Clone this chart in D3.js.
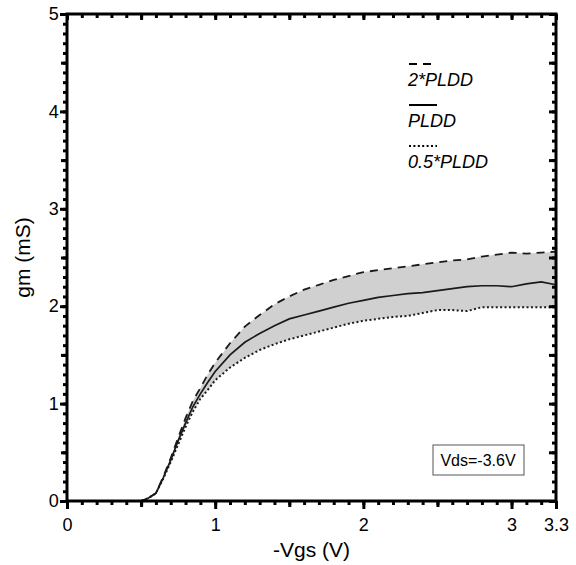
<!DOCTYPE html>
<html>
<head>
<meta charset="utf-8">
<script src="https://cdn.jsdelivr.net/npm/d3@7"></script>
<style>
  body { margin: 0; background: #fff; }
  text { font-family: Arial, "Liberation Sans", sans-serif; fill: #000; }
</style>
</head>
<body>
<div id="chart"></div>
<script>
// -Vgs (V)
const vgs = [0, 0.5, 0.55, 0.6, 0.65, 0.7, 0.75, 0.8, 0.85, 0.9, 0.95, 1.0, 1.1, 1.2, 1.3, 1.4, 1.5, 1.6, 1.7,
  1.8, 1.9, 2.0, 2.1, 2.2, 2.3, 2.4, 2.5, 2.6, 2.7, 2.8, 2.9, 3.0, 3.1, 3.2, 3.3];
// gm (mS)
const gm2x = [0, 0, 0.03, 0.08, 0.25, 0.44, 0.65, 0.85, 1.03, 1.16, 1.3, 1.42, 1.62, 1.79, 1.91, 2.02, 2.1, 2.17, 2.22,
  2.27, 2.31, 2.35, 2.37, 2.39, 2.41, 2.43, 2.45, 2.47, 2.48, 2.51, 2.53, 2.55, 2.54, 2.55, 2.56];
const gm1x = [0, 0, 0.03, 0.08, 0.24, 0.42, 0.62, 0.8, 0.97, 1.1, 1.22, 1.33, 1.5, 1.63, 1.72, 1.8, 1.87, 1.91, 1.95,
  1.99, 2.03, 2.06, 2.09, 2.11, 2.13, 2.14, 2.16, 2.18, 2.2, 2.21, 2.21, 2.2, 2.23, 2.25, 2.22];
const gmHalf = [0, 0, 0.03, 0.08, 0.23, 0.4, 0.58, 0.76, 0.92, 1.05, 1.14, 1.24, 1.37, 1.47, 1.55, 1.61, 1.66, 1.7, 1.74,
  1.78, 1.82, 1.85, 1.87, 1.89, 1.9, 1.93, 1.96, 1.96, 1.95, 1.99, 1.99, 1.99, 1.99, 1.99, 1.99];

const xLabels = [0, 1, 2, 3, 3.3];
const yLabels = [0, 1, 2, 3, 4, 5];
const legendNames = ["2*PLDD", "PLDD", "0.5*PLDD"];
const note = "Vds=-3.6V";

const W = 576, H = 565;
const margin = {top: 14, right: 20, bottom: 64, left: 67};

const svg = d3.select("#chart").append("svg")
  .attr("width", W).attr("height", H);

const x = d3.scaleLinear().domain([0, 3.3]).range([margin.left, W - margin.right]);
const y = d3.scaleLinear().domain([0, 5]).range([H - margin.bottom, margin.top]);

const ink = "#000";

// band between 2*PLDD and 0.5*PLDD
const rows = vgs.map((v, i) => ({v, hi: gm2x[i], mid: gm1x[i], lo: gmHalf[i]}));
svg.append("path")
  .datum(rows)
  .attr("fill", "#d0d0d0")
  .attr("d", d3.area().x(d => x(d.v)).y0(d => y(d.lo)).y1(d => y(d.hi)));

const line = key => d3.line().x(d => x(d.v)).y(d => y(d[key]));
const styles = [
  {key: "hi", dash: "8,6", w: 1.8},
  {key: "mid", dash: null, w: 1.7},
  {key: "lo", dash: "2,2.4", w: 2}
];
styles.forEach(s => {
  svg.append("path")
    .datum(rows)
    .attr("fill", "none")
    .attr("stroke", "#1a1a1a")
    .attr("stroke-width", s.w)
    .attr("stroke-dasharray", s.dash)
    .attr("d", line(s.key));
});

// axes: minor / mid / major ticks
const xMinor = d3.range(0, 33).map(i => i / 10).concat([3.3]);
const xMid = [0.5, 1.5, 2.5];
const yMinor = d3.range(0, 51).map(i => i / 10);
const yMid = [0.5, 1.5, 2.5, 3.5, 4.5];

function addAxis(axisFn, scale, vals, size, labels, transform) {
  const g = svg.append("g").attr("transform", transform)
    .call(axisFn(scale).tickValues(vals).tickSize(size).tickSizeOuter(0)
      .tickFormat(labels ? d3.format("") : ""));
  g.select(".domain").remove();
  g.selectAll("line").style("stroke", ink).style("stroke-width", "3px");
  g.selectAll("text").attr("font-size", 18).style("fill", ink);
  return g;
}

const bottomY = y(0), topY = y(5), leftX = x(0), rightX = x(3.3);
// bottom (outward)
addAxis(d3.axisBottom, x, xMinor, 4, false, `translate(0,${bottomY})`);
addAxis(d3.axisBottom, x, xMid, 6, false, `translate(0,${bottomY})`);
addAxis(d3.axisBottom, x, xLabels, 8, true, `translate(0,${bottomY})`)
  .selectAll("text").attr("dy", "1.05em");
// left (outward)
addAxis(d3.axisLeft, y, yMinor, 4, false, `translate(${leftX},0)`);
addAxis(d3.axisLeft, y, yMid, 6, false, `translate(${leftX},0)`);
addAxis(d3.axisLeft, y, yLabels, 7, true, `translate(${leftX},0)`)
  .selectAll("text").attr("dx", "0.1em");
// top and right (inward)
addAxis(d3.axisBottom, x, xMinor, 4, false, `translate(0,${topY})`);
addAxis(d3.axisBottom, x, xMid.concat(xLabels), 6, false, `translate(0,${topY})`);
addAxis(d3.axisLeft, y, yMinor, 4, false, `translate(${rightX},0)`);
addAxis(d3.axisLeft, y, yMid.concat(yLabels), 7, false, `translate(${rightX},0)`);

// frame
svg.append("rect")
  .attr("x", leftX).attr("y", topY)
  .attr("width", rightX - leftX).attr("height", bottomY - topY)
  .style("fill", "none").style("stroke", ink).style("stroke-width", "3px");

// axis titles
svg.append("text")
  .attr("x", (leftX + rightX) / 2).attr("y", 557)
  .attr("text-anchor", "middle").attr("font-size", 21)
  .text("-Vgs (V)");
svg.append("text")
  .attr("transform", `translate(30,${(topY + bottomY) / 2}) rotate(-90)`)
  .attr("text-anchor", "middle").attr("font-size", 21)
  .text("gm (mS)");

// legend
const lg = svg.append("g").attr("transform", "translate(408,0)");
const legendDash = ["8,6", null, "2,2.4"];
legendNames.forEach((name, i) => {
  const base = 86 + i * 41;
  lg.append("line")
    .attr("x1", 1).attr("x2", 29).attr("y1", base - 22).attr("y2", base - 22)
    .attr("stroke", ink).attr("stroke-width", 2)
    .attr("stroke-dasharray", legendDash[i]);
  lg.append("text")
    .attr("x", 0).attr("y", base)
    .attr("font-size", 18).attr("font-style", "italic")
    .text(name);
});

// condition box
svg.append("rect")
  .attr("x", 433).attr("y", 445).attr("width", 91).attr("height", 30)
  .attr("fill", "#fff").attr("stroke", "#555").attr("stroke-width", 1);
svg.append("text")
  .attr("x", 478).attr("y", 466)
  .attr("text-anchor", "middle").attr("font-size", 16)
  .text(note);
</script>
</body>
</html>
